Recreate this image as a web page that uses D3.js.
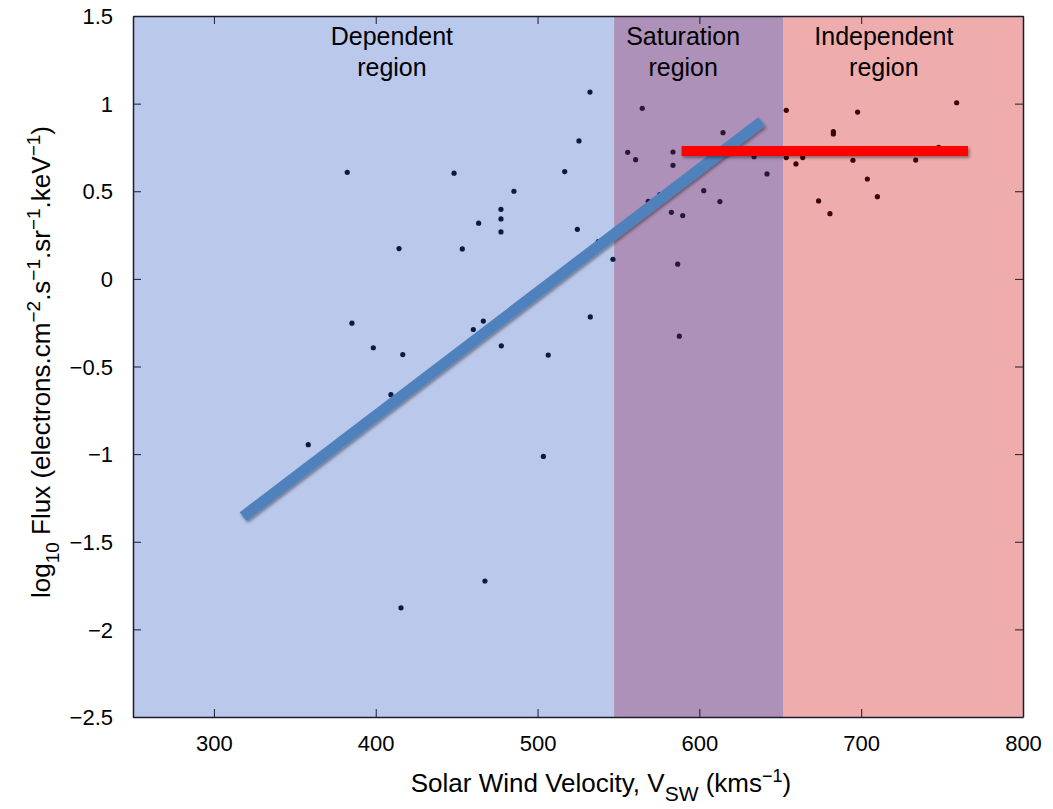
<!DOCTYPE html>
<html>
<head>
<meta charset="utf-8">
<title>Flux vs solar wind velocity</title>
<script src="https://d3js.org/d3.v7.min.js"></script>
<style>
  body { margin: 0; background: #fff; }
  text { font-family: "Liberation Sans", Arial, Helvetica, sans-serif; fill: #000; }
</style>
</head>
<body>
<script>
// scatter values (km/s, log10 flux)
const velocity = [532.4, 525.6, 382.4, 448.4, 516.8, 485.4, 477.4, 477.4, 463.6, 477.4,
  524.6, 414.4, 453.5, 537.5, 546.6, 564.7, 614.6, 555.7, 560.6, 583.7,
  583.7, 633.8, 641.8, 653.7, 697.8, 682.8, 682.8, 759.0, 747.9, 653.7,
  663.9, 659.7, 694.9, 733.7, 703.8, 710.0, 673.7, 680.7, 568.4, 575.5,
  602.7, 612.7, 582.7, 589.7, 586.6, 385.3, 398.5, 416.7, 409.4, 358.3,
  460.3, 466.5, 477.6, 506.6, 532.6, 503.6, 467.5, 415.6, 587.6];
const logFlux = [1.066, 0.787, 0.608, 0.603, 0.612, 0.500, 0.397, 0.342, 0.318, 0.268,
  0.283, 0.173, 0.171, 0.213, 0.112, 0.973, 0.834, 0.722, 0.680, 0.724,
  0.648, 0.697, 0.599, 0.962, 0.952, 0.841, 0.827, 1.005, 0.751, 0.692,
  0.692, 0.656, 0.677, 0.678, 0.570, 0.469, 0.445, 0.372, 0.443, 0.481,
  0.503, 0.441, 0.380, 0.361, 0.084, -0.253, -0.393, -0.432, -0.661, -0.946,
  -0.289, -0.241, -0.382, -0.435, -0.217, -1.013, -1.724, -1.877, -0.327];

// shaded regions
const regionNames = [["Dependent", "region"], ["Saturation", "region"], ["Independent", "region"]];
const regionStart = [250, 547.3, 651.7];
const regionEnd = [547.3, 651.7, 800];
const regionLabelX = [410, 590, 714];
const regionFill = ["#bac8ec", "#ae91b8", "#eeacac"];
const dotFill = ["#0c1a40", "#2a1838", "#3a0404"];

// fitted lines
const fitX = [318, 638.5];
const fitY = [-1.357, 0.897];
const satX = [589, 766];
const satY = [0.73, 0.73];

const xTicks = [300, 400, 500, 600, 700, 800];
const yTicks = [-2.5, -2, -1.5, -1, -0.5, 0, 0.5, 1, 1.5];

const W = 1053, H = 809;
const margin = { top: 16, right: 30, bottom: 92, left: 133 };

const svg = d3.select("body").append("svg")
  .attr("width", W)
  .attr("height", H);

// drop shadow, in user space so the flat red line keeps it
const defs = svg.append("defs");
const shadow = defs.append("filter").attr("id", "shadow")
  .attr("filterUnits", "userSpaceOnUse")
  .attr("x", 0).attr("y", 0).attr("width", W).attr("height", H);
shadow.append("feDropShadow")
  .attr("dx", 1.5).attr("dy", 2).attr("stdDeviation", 1.5)
  .attr("flood-color", "#000").attr("flood-opacity", 0.4);

const x = d3.scaleLinear().domain([250, 800]).range([margin.left, W - margin.right]);
const y = d3.scaleLinear().domain([-2.5, 1.5]).range([H - margin.bottom, margin.top]);

// region backgrounds
svg.append("g").selectAll("rect")
  .data(regionStart)
  .join("rect")
  .attr("x", (d, i) => x(d))
  .attr("y", y(1.5))
  .attr("width", (d, i) => x(regionEnd[i]) - x(d))
  .attr("height", y(-2.5) - y(1.5))
  .attr("fill", (d, i) => regionFill[i]);

// region labels
const lab = svg.append("g").selectAll("text")
  .data(regionNames)
  .join("text")
  .attr("text-anchor", "middle")
  .style("font-size", "25px");
lab.each(function (d, i) {
  const t = d3.select(this);
  d.forEach((s, k) => {
    t.append("tspan")
      .attr("x", x(regionLabelX[i]))
      .attr("y", 45 + k * 31)
      .text(s);
  });
});

// points
const pts = velocity.map((v, i) => ({ v, f: logFlux[i] }));
svg.append("g").selectAll("circle")
  .data(pts)
  .join("circle")
  .attr("cx", d => x(d.v))
  .attr("cy", d => y(d.f))
  .attr("r", 2.6)
  .attr("fill", d => d.v < regionEnd[0] ? dotFill[0] : d.v < regionEnd[1] ? dotFill[1] : dotFill[2]);

// fit lines
const line = d3.line().x(d => x(d[0])).y(d => y(d[1]));
svg.append("path")
  .datum(fitX.map((v, i) => [v, fitY[i]]))
  .attr("d", line)
  .attr("fill", "none")
  .attr("stroke", "#4f81bd")
  .attr("stroke-width", 11)
  .attr("filter", "url(#shadow)");
svg.append("path")
  .datum(satX.map((v, i) => [v, satY[i]]))
  .attr("d", line)
  .attr("fill", "none")
  .attr("stroke", "#ff0000")
  .attr("stroke-width", 10)
  .attr("filter", "url(#shadow)");

// axes, matlab style: ticks inward on all four sides
const tickLen = 8;
const axisFmt = d3.format("~g");
const gx = svg.append("g").attr("transform", `translate(0,${y(-2.5)})`)
  .call(d3.axisBottom(x).tickValues(xTicks).tickFormat(axisFmt).tickSizeInner(-tickLen).tickSizeOuter(0).tickPadding(18));
const gxt = svg.append("g").attr("transform", `translate(0,${y(1.5)})`)
  .call(d3.axisTop(x).tickValues(xTicks).tickFormat("").tickSizeInner(-tickLen).tickSizeOuter(0));
const gy = svg.append("g").attr("transform", `translate(${x(250)},0)`)
  .call(d3.axisLeft(y).tickValues(yTicks).tickFormat(axisFmt).tickSizeInner(-tickLen).tickSizeOuter(0).tickPadding(20));
const gyr = svg.append("g").attr("transform", `translate(${x(800)},0)`)
  .call(d3.axisRight(y).tickValues(yTicks).tickFormat("").tickSizeInner(-tickLen).tickSizeOuter(0));

[gx, gxt, gy, gyr].forEach(g => {
  g.selectAll(".domain").attr("stroke", "#1c1c2c").attr("stroke-width", 1.5);
  g.selectAll(".tick line").attr("stroke", "#1c1c2c").attr("stroke-width", 1);
  g.selectAll(".tick text").style("font-size", "22px").attr("fill", "#000");
});
gx.selectAll(".tick text").attr("dy", "0.71em");
gy.selectAll(".tick text").attr("dy", "0.35em");

// x axis title
const xt = svg.append("text")
  .attr("x", 601).attr("y", 792)
  .attr("text-anchor", "middle")
  .style("font-size", "26px");
xt.append("tspan").text("Solar Wind Velocity, V");
xt.append("tspan").attr("dy", 9).style("font-size", "21px").text("SW");
xt.append("tspan").attr("dy", -9).text(" (kms");
xt.append("tspan").attr("dy", -10).style("font-size", "18px").text("\u22121");
xt.append("tspan").attr("dy", 10).text(")");

// y axis title
const yt = svg.append("text")
  .attr("transform", "translate(50,362) rotate(-90)")
  .attr("text-anchor", "middle")
  .style("font-size", "26px");
yt.append("tspan").text("log");
yt.append("tspan").attr("dy", 9).style("font-size", "19px").text("10");
yt.append("tspan").attr("dy", -9).text(" Flux (electrons.cm");
yt.append("tspan").attr("dy", -10).style("font-size", "19px").text("\u22122");
yt.append("tspan").attr("dy", 10).text(".s");
yt.append("tspan").attr("dy", -10).style("font-size", "19px").text("\u22121");
yt.append("tspan").attr("dy", 10).text(".sr");
yt.append("tspan").attr("dy", -10).style("font-size", "19px").text("\u22121");
yt.append("tspan").attr("dy", 10).text(".keV");
yt.append("tspan").attr("dy", -10).style("font-size", "19px").text("\u22121");
yt.append("tspan").attr("dy", 10).text(")");
</script>
</body>
</html>
